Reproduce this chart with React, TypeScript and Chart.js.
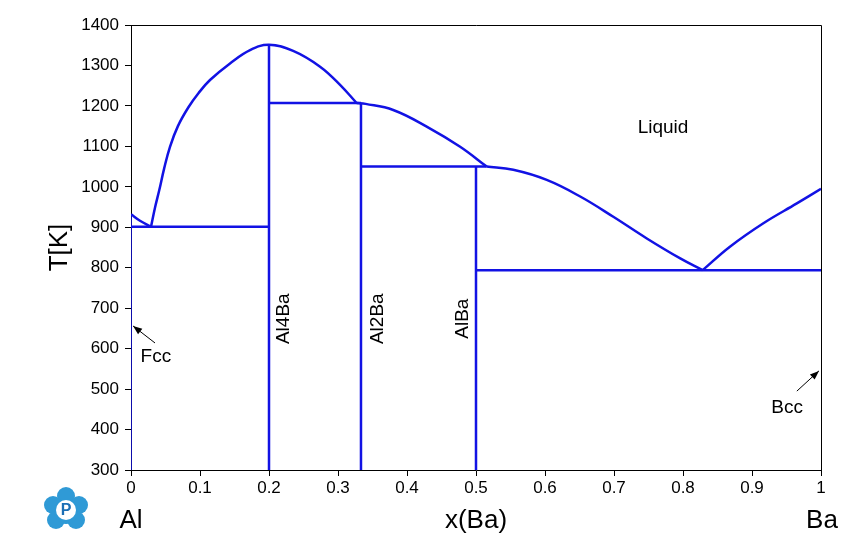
import React, { useEffect, useRef } from "react";
import { Chart, registerables } from "chart.js";

Chart.register(...registerables);

// ---- data (x = mole fraction Ba, T in K) ----
const fccLiqX = [0, 0.013, 0.029];
const fccLiqT = [932, 916, 901];
const al4baLiqX = [0.029, 0.035, 0.041, 0.048, 0.0565, 0.068, 0.083, 0.098, 0.1145, 0.1435, 0.1725, 0.2, 0.235, 0.274, 0.303, 0.327];
const al4baLiqT = [901, 950, 992, 1045, 1099, 1150, 1196, 1232, 1264, 1305, 1338, 1351, 1336, 1297, 1252, 1207];
const al2baLiqX = [0.327, 0.34, 0.38, 0.4285, 0.477, 0.5155];
const al2baLiqT = [1207, 1205, 1190, 1149, 1099, 1050];
const albaLiqX = [0.5155, 0.554, 0.6025, 0.651, 0.699, 0.747, 0.796, 0.8285];
const albaLiqT = [1050, 1042, 1017, 976, 926, 873, 823, 794];
const bccLiqX = [0.8285, 0.868, 0.9165, 0.965, 1];
const bccLiqT = [794, 852, 910, 959, 995];

// invariant (horizontal) lines: [xStart, xEnd, T]
const invariants = [
  [0, 0.2, 901],
  [0.2, 0.3333, 1207],
  [0.3333, 0.5155, 1050],
  [0.5, 1, 794],
];
// compound (vertical) lines: [x, Tbottom, Ttop]
const compounds = [
  [0.2, 300, 1351],
  [0.3333, 300, 1207],
  [0.5, 300, 1050],
];
const fccSolvus = [0, 300, 932];

const compoundNames = ["Al4Ba", "Al2Ba", "AlBa"];
const compoundLabelX = [0.222, 0.358, 0.481];
const xTicks = [0, 0.1, 0.2, 0.3, 0.4, 0.5, 0.6, 0.7, 0.8, 0.9, 1];
const yTicks = [300, 400, 500, 600, 700, 800, 900, 1000, 1100, 1200, 1300, 1400];

const BLUE = "rgb(18,18,228)";
const FONT = "'Liberation Sans', Arial, sans-serif";

function pts(xs: number[], ts: number[]) {
  return xs.map((x, i) => ({ x, y: ts[i] }));
}

function curve(xs: number[], ts: number[]) {
  return {
    data: pts(xs, ts),
    showLine: true,
    borderColor: BLUE,
    borderWidth: 2.5,
    pointRadius: 0,
    tension: 0.4,
    fill: false,
  };
}
function seg(x1: number, t1: number, x2: number, t2: number, w = 2.5) {
  return {
    data: [
      { x: x1, y: t1 },
      { x: x2, y: t2 },
    ],
    showLine: true,
    borderColor: BLUE,
    borderWidth: w,
    pointRadius: 0,
    fill: false,
  };
}

function arrow(ctx: CanvasRenderingContext2D, x1: number, y1: number, x2: number, y2: number) {
  ctx.save();
  ctx.strokeStyle = "#000";
  ctx.fillStyle = "#000";
  ctx.lineWidth = 1;
  ctx.beginPath();
  ctx.moveTo(x1, y1);
  ctx.lineTo(x2, y2);
  ctx.stroke();
  const a = Math.atan2(y2 - y1, x2 - x1);
  const L = 9, W = 3.5;
  ctx.beginPath();
  ctx.moveTo(x2, y2);
  ctx.lineTo(x2 - L * Math.cos(a) + W * Math.sin(a), y2 - L * Math.sin(a) - W * Math.cos(a));
  ctx.lineTo(x2 - L * Math.cos(a) - W * Math.sin(a), y2 - L * Math.sin(a) + W * Math.cos(a));
  ctx.closePath();
  ctx.fill();
  ctx.restore();
}

const decorPlugin = {
  id: "decor",
  afterDraw(chart: any) {
    const ctx: CanvasRenderingContext2D = chart.ctx;
    const xs = chart.scales.x;
    const ys = chart.scales.y;
    const { left, right, top, bottom } = chart.chartArea;
    const px = (v: number) => xs.getPixelForValue(v);
    const py = (v: number) => ys.getPixelForValue(v);
    ctx.save();
    // box
    ctx.strokeStyle = "#000";
    ctx.lineWidth = 1;
    ctx.beginPath();
    ctx.moveTo(left, top + 0.5);
    ctx.lineTo(right + 0.5, top + 0.5);
    ctx.lineTo(right + 0.5, bottom);
    ctx.stroke();

    ctx.fillStyle = "#000";
    ctx.textAlign = "center";
    ctx.textBaseline = "middle";
    ctx.font = `19px ${FONT}`;
    ctx.fillText("Liquid", px(0.771), py(1145));
    ctx.fillText("Fcc", px(0.036), py(579));
    ctx.fillText("Bcc", px(0.951), py(453));
    arrow(ctx, px(0.0348), py(614), px(0.003), py(656));
    arrow(ctx, px(0.965), py(495), px(0.997), py(545));

    compoundNames.forEach((n, i) => {
      ctx.save();
      ctx.translate(px(compoundLabelX[i]), py(674));
      ctx.rotate(-Math.PI / 2);
      ctx.fillText(n, 0, 0);
      ctx.restore();
    });

    // axis titles
    ctx.font = `26px ${FONT}`;
    ctx.save();
    ctx.translate(60, (top + bottom) / 2);
    ctx.rotate(-Math.PI / 2);
    ctx.fillText("T[K]", 0, 0);
    ctx.restore();
    ctx.fillText("x(Ba)", (left + right) / 2, 521);
    ctx.fillText("Al", 131, 521);
    ctx.fillText("Ba", 822, 521);

    // logo
    const cx = 66, cy = 510;
    ctx.fillStyle = "#2f9ad6";
    const blobs = [
      [cx, cy - 14, 9],
      [cx - 13, cy - 5, 9],
      [cx + 13, cy - 5, 9],
      [cx - 10, cy + 10, 9],
      [cx + 10, cy + 10, 9],
      [cx, cy + 2, 12],
    ];
    blobs.forEach(([bx, by, r]) => {
      ctx.beginPath();
      ctx.arc(bx, by, r, 0, Math.PI * 2);
      ctx.fill();
    });
    ctx.fillStyle = "#fff";
    ctx.beginPath();
    ctx.arc(cx, cy, 10, 0, Math.PI * 2);
    ctx.fill();
    ctx.fillStyle = "#1b6fb5";
    ctx.font = `bold 16px ${FONT}`;
    ctx.fillText("P", cx, cy + 1);
    ctx.restore();
  },
};

export default function App() {
  const ref = useRef<HTMLCanvasElement>(null);
  useEffect(() => {
    if (!ref.current) return;
    const datasets: any[] = [
      curve(fccLiqX, fccLiqT),
      curve(al4baLiqX, al4baLiqT),
      curve(al2baLiqX, al2baLiqT),
      curve(albaLiqX, albaLiqT),
      curve(bccLiqX, bccLiqT),
      ...invariants.map(([a, b, t]) => seg(a, t, b, t)),
      ...compounds.map(([x, t1, t2]) => seg(x, t1, x, t2)),
      seg(fccSolvus[0], fccSolvus[1], fccSolvus[0], fccSolvus[2], 1.5),
    ];
    const chart = new Chart(ref.current, {
      type: "scatter",
      data: { datasets },
      options: {
        animation: false,
        responsive: false,
        maintainAspectRatio: false,
        layout: { padding: { top: 25, right: 31, left: 0, bottom: 0 } },
        plugins: { legend: { display: false }, tooltip: { enabled: false } },
        elements: { line: { borderCapStyle: "butt" } },
        scales: {
          x: {
            type: "linear",
            min: 0,
            max: 1,
            afterFit: (s: any) => {
              s.height = 90;
            },
            afterBuildTicks: (s: any) => {
              s.ticks = xTicks.map((v) => ({ value: v }));
            },
            grid: { display: true, drawOnChartArea: false, drawTicks: true, tickLength: 6, color: "#000" },
            border: { display: true, color: "#000", width: 1 },
            ticks: {
              padding: 2,
              color: "#000",
              font: { size: 17, family: FONT },
              maxRotation: 0,
              callback: (v: any) => String(Math.round(Number(v) * 10) / 10),
            },
          },
          y: {
            type: "linear",
            min: 300,
            max: 1400,
            afterFit: (s: any) => {
              s.width = 131;
            },
            afterBuildTicks: (s: any) => {
              s.ticks = yTicks.map((v) => ({ value: v }));
            },
            grid: { display: true, drawOnChartArea: false, drawTicks: true, tickLength: 6, color: "#000" },
            border: { display: true, color: "#000", width: 1 },
            ticks: {
              padding: 6,
              color: "#000",
              font: { size: 17, family: FONT },
              callback: (v: any) => String(v),
            },
          },
        },
      },
      plugins: [decorPlugin],
    });
    return () => chart.destroy();
  }, []);
  return (
    <div style={{ position: "fixed", left: 0, top: 0, width: 852, height: 560, background: "#fff" }}>
      <canvas ref={ref} width={852} height={560} style={{ width: 852, height: 560 }} />
    </div>
  );
}
